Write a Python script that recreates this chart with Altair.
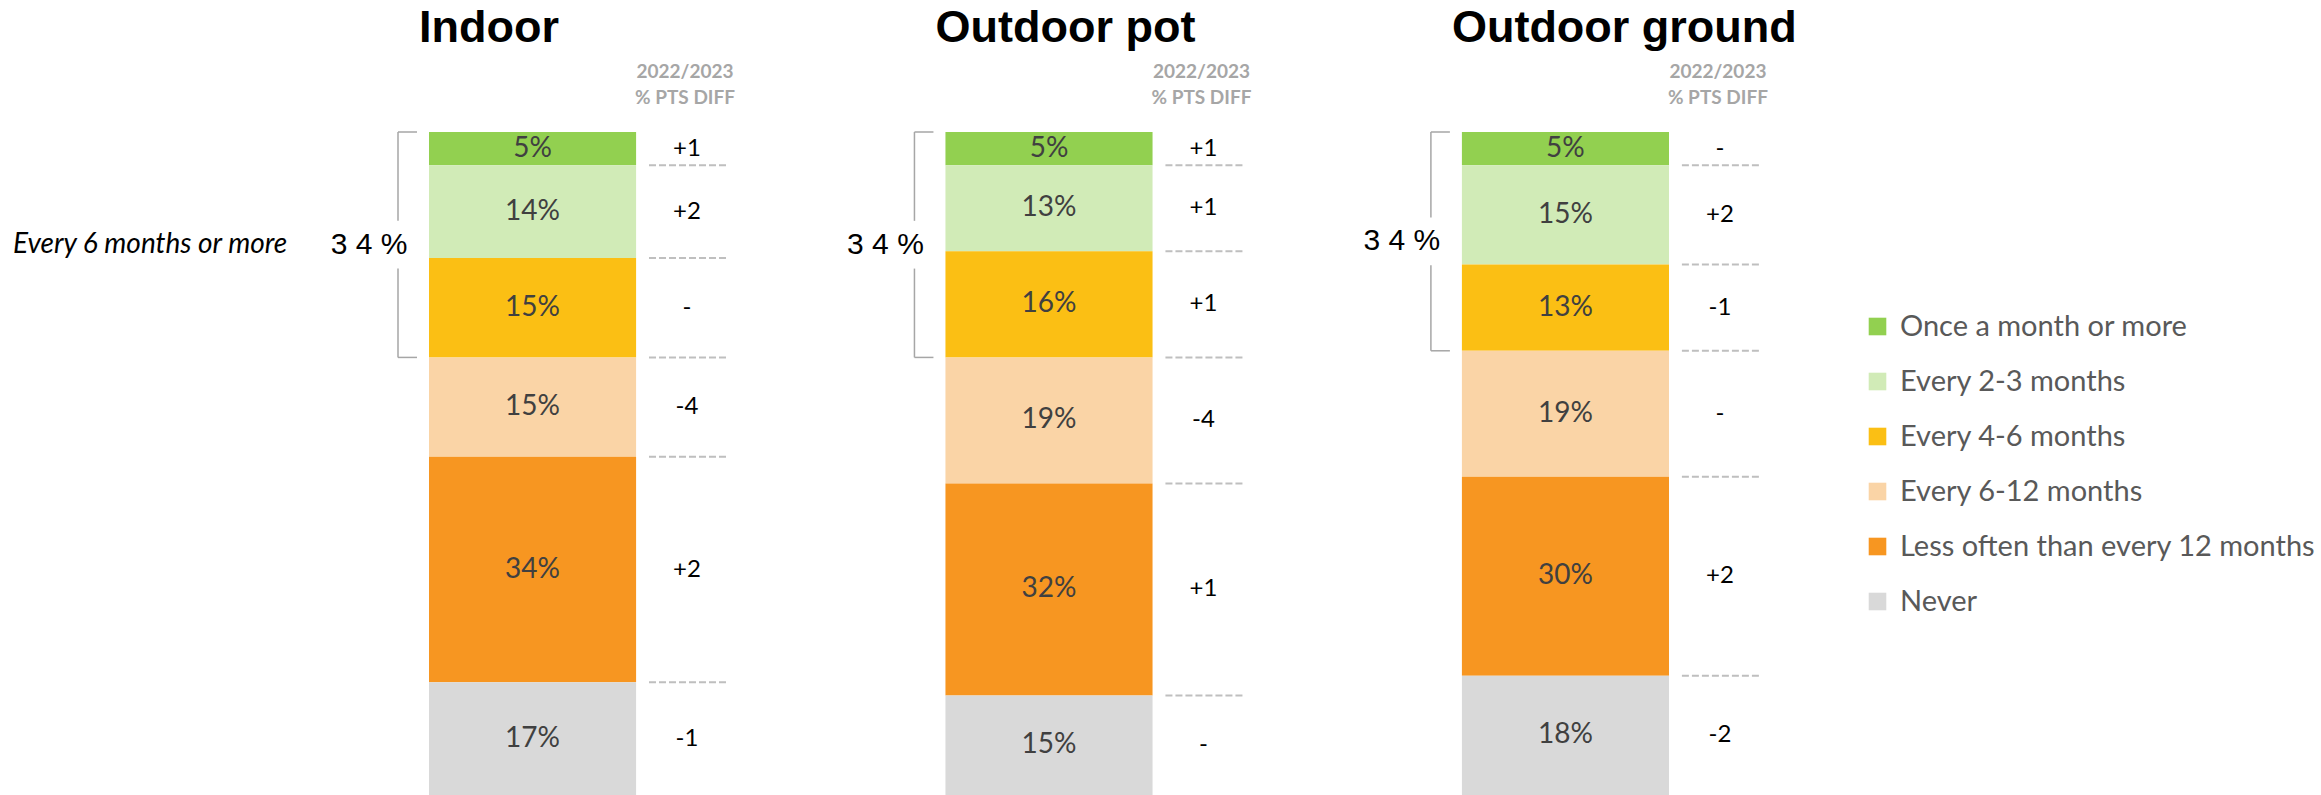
import altair as alt
import pandas as pd

# ---------------- data ----------------
panels = ["Indoor", "Outdoor pot", "Outdoor ground"]
categories = [
    "Once a month or more",
    "Every 2-3 months",
    "Every 4-6 months",
    "Every 6-12 months",
    "Less often than every 12 months",
    "Never",
]
colors = ["#92D050", "#D1EBB7", "#FBBF14", "#FAD4A6", "#F79621", "#D9D9D9"]

indoor_values = [5, 14, 15, 15, 34, 17]
pot_values = [5, 13, 16, 19, 32, 15]
ground_values = [5, 15, 13, 19, 30, 18]

indoor_diff = ["+1", "+2", "-", "-4", "+2", "-1"]
pot_diff = ["+1", "+1", "+1", "-4", "+1", "-"]
ground_diff = ["-", "+2", "-1", "-", "+2", "-2"]

summary_values = [34, 34, 34]
side_label = "Every 6 months or more"
diff_header = ["2022/2023", "% PTS DIFF"]

# ---------------- tables ----------------
rows = []
for p, vals, diffs in zip(panels, [indoor_values, pot_values, ground_values],
                          [indoor_diff, pot_diff, ground_diff]):
    for i, (c, v, d) in enumerate(zip(categories, vals, diffs)):
        rows.append(dict(panel=p, category=c, order=i, value=v, diff=d, label=f"{v}%"))
df = pd.DataFrame(rows)

panel_df = pd.DataFrame({
    "panel": panels,
    "summary": [" ".join(str(s)) + " %" for s in summary_values],
    "end": [sum(v[:3]) for v in [indoor_values, pot_values, ground_values]],
})
panel_df["start"] = 0
panel_df["mid"] = panel_df["end"] / 2

# ---------------- scales ----------------
xscale = alt.Scale(domain=panels, range=[429, 1669], paddingInner=0.599, paddingOuter=0)
yscale = alt.Scale(domain=[0, 100], reverse=True, nice=False, zero=False)


def X(**kw):
    return alt.X("panel:N", scale=xscale, axis=None, **kw)


def Y(f):
    return alt.Y(f, scale=yscale, axis=None)


base = alt.Chart(df).transform_stack(
    stack="value", groupby=["panel"], sort=[alt.SortField("order")], as_=["y0", "y1"]
).transform_calculate(mid="(datum.y0 + datum.y1) / 2")

bars = base.mark_bar().encode(
    x=X(),
    y=Y("y0:Q"),
    y2="y1:Q",
    color=alt.Color(
        "category:N",
        scale=alt.Scale(domain=categories, range=colors),
        legend=alt.Legend(
            title=None, orient="none", legendX=1863, legendY=180,
            symbolType="square", symbolSize=310, symbolStrokeWidth=0,
            symbolOpacity=1,
            labelFont="Lato", labelFontSize=29, labelColor="#595959",
            rowPadding=25, labelOffset=8, padding=0, labelLimit=700,
        ),
    ),
)

seg_labels = base.mark_text(font="Lato", fontSize=28, color="#404040",
                            baseline="middle", align="center").encode(
    x=X(bandPosition=0.5), y=Y("mid:Q"), text="label:N")

diff_text = base.mark_text(font="Lato", fontSize=24, color="#000000",
                           baseline="middle", align="center", xOffset=258).encode(
    x=X(bandPosition=0), y=Y("mid:Q"), text="diff:N")

dashes = base.transform_filter("datum.order < 5").mark_rule(
    color="#BFBFBF", strokeDash=[7, 3], strokeWidth=2, xOffset=220, x2Offset=298
).encode(x=X(bandPosition=0), x2=alt.X2("panel:N", bandPosition=0), y=Y("y1:Q"))

pbase = alt.Chart(panel_df)

titles = pbase.mark_text(font="Liberation Sans", fontWeight="bold", fontSize=45,
                         color="#000000", align="left", baseline="alphabetic",
                         xOffset=-10).encode(
    x=X(bandPosition=0), y=alt.value(-90), text="panel:N")

head1 = pbase.mark_text(font="Lato", fontWeight="bold", fontSize=19, color="#A6A6A6",
                        align="center", baseline="middle", xOffset=256,
                        text=diff_header[0]).encode(x=X(bandPosition=0), y=alt.value(-60))
head2 = pbase.mark_text(font="Lato", fontWeight="bold", fontSize=19, color="#A6A6A6",
                        align="center", baseline="middle", xOffset=256,
                        text=diff_header[1]).encode(x=X(bandPosition=0), y=alt.value(-34))

bcol = "#A6A6A6"
bracket_top = pbase.transform_calculate(g1="datum.mid - 3.6").mark_rule(
    color=bcol, strokeWidth=1.5, xOffset=-31).encode(
    x=X(bandPosition=0), y=Y("start:Q"), y2="g1:Q")
bracket_bot = pbase.transform_calculate(g2="datum.mid + 3.6").mark_rule(
    color=bcol, strokeWidth=1.5, xOffset=-31).encode(
    x=X(bandPosition=0), y=Y("g2:Q"), y2="end:Q")
tick_top = pbase.mark_rule(color=bcol, strokeWidth=1.5, xOffset=-31, x2Offset=-12).encode(
    x=X(bandPosition=0), x2=alt.X2("panel:N", bandPosition=0), y=Y("start:Q"))
tick_bot = pbase.mark_rule(color=bcol, strokeWidth=1.5, xOffset=-31, x2Offset=-12).encode(
    x=X(bandPosition=0), x2=alt.X2("panel:N", bandPosition=0), y=Y("end:Q"))

summary = pbase.mark_text(font="Liberation Sans", fontSize=30, color="#000000",
                          align="center", baseline="middle", xOffset=-60).encode(
    x=X(bandPosition=0), y=Y("mid:Q"), text="summary:N")

side = pbase.transform_filter(alt.datum.panel == panels[0]).mark_text(
    font="Lato", fontStyle="italic", fontSize=28, color="#000000",
    align="left", baseline="middle", xOffset=-416, text=side_label).encode(
    x=X(bandPosition=0), y=Y("mid:Q"))

chart = alt.layer(
    bars, seg_labels, dashes, diff_text, titles, head1, head2,
    bracket_top, bracket_bot, tick_top, tick_bot, summary, side,
).properties(
    width=2321, height=663,
    padding={"top": 132, "left": 0, "right": 0, "bottom": 0},
    autosize=alt.AutoSizeParams(type="none"),
    background="#FFFFFF",
).configure_view(stroke=None)

chart.save("out.html", embed_options={"renderer": "svg", "actions": False})
